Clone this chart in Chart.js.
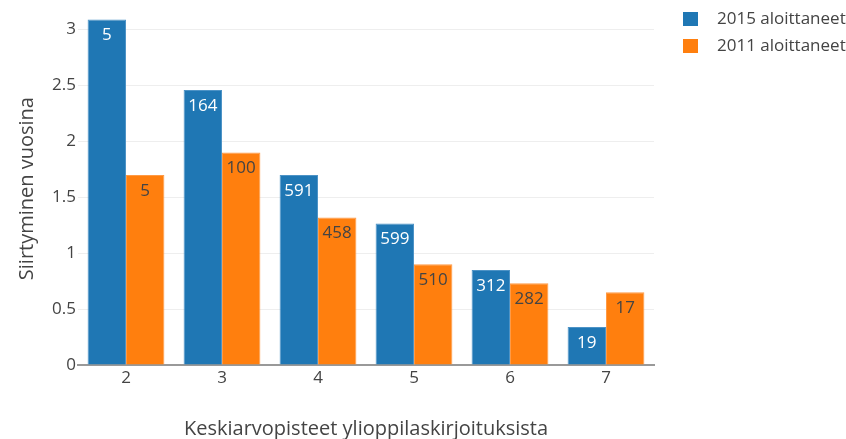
<!DOCTYPE html>
<html>
<head>
<meta charset="utf-8">
<script src="https://cdn.jsdelivr.net/npm/chart.js@4"></script>
<style>
  html, body { margin: 0; padding: 0; background: #fff; }
  #wrap { width: 846px; height: 439px; position: relative; }
</style>
</head>
<body>
<div id="wrap"><canvas id="c" width="846" height="439"></canvas></div>
<script>
const categories = ['2', '3', '4', '5', '6', '7'];
const seriesNames = ['2015 aloittaneet', '2011 aloittaneet'];
const values2015 = [3.09, 2.46, 1.70, 1.265, 0.85, 0.34];
const values2011 = [1.70, 1.90, 1.32, 0.90, 0.73, 0.65];
const counts2015 = [5, 164, 591, 599, 312, 19];
const counts2011 = [5, 100, 458, 510, 282, 17];
const yTicks = [0, 0.5, 1, 1.5, 2, 2.5, 3];
const xTitle = 'Keskiarvopisteet ylioppilaskirjoituksista';
const yTitle = 'Siirtyminen vuosina';

const FONT = "'Open Sans', 'DejaVu Sans', sans-serif";
const TXT = '#444';
const BLUE = '#1f77b4';
const ORANGE = '#ff7f0e';

const counts = [counts2015, counts2011];
const labelColors = ['#ffffff', '#444444'];

const barLabels = {
  id: 'barLabels',
  afterDatasetsDraw(chart) {
    const ctx = chart.ctx;
    ctx.save();
    ctx.font = '17px ' + FONT;
    ctx.textAlign = 'center';
    ctx.textBaseline = 'middle';
    chart.data.datasets.forEach((ds, i) => {
      const meta = chart.getDatasetMeta(i);
      meta.data.forEach((bar, j) => {
        ctx.fillStyle = labelColors[i];
        ctx.fillText(String(counts[i][j]), bar.x, bar.y + 16);
      });
    });
    ctx.restore();
  }
};

const customLegend = {
  id: 'customLegend',
  afterDraw(chart) {
    const ctx = chart.ctx;
    ctx.save();
    ctx.font = '17px ' + FONT;
    ctx.textAlign = 'left';
    ctx.textBaseline = 'middle';
    chart.data.datasets.forEach((ds, i) => {
      const cy = 19 + i * 27;
      ctx.fillStyle = ds.backgroundColor;
      ctx.fillRect(683, cy - 7, 15, 14);
      ctx.fillStyle = TXT;
      ctx.fillText(ds.label, 717, cy);
    });
    ctx.restore();
  }
};

new Chart(document.getElementById('c'), {
  type: 'bar',
  data: {
    labels: categories,
    datasets: [
      { label: seriesNames[0], data: values2015, backgroundColor: BLUE, borderColor: '#4d93c6', borderWidth: 1 },
      { label: seriesNames[1], data: values2011, backgroundColor: ORANGE, borderColor: '#ff9a45', borderWidth: 1 }
    ]
  },
  options: {
    responsive: false,
    animation: false,
    events: [],
    layout: { padding: { top: 3, right: 192, left: 0, bottom: 0 } },
    datasets: { bar: { categoryPercentage: 0.8, barPercentage: 1.0 } },
    plugins: { legend: { display: false }, tooltip: { enabled: false } },
    scales: {
      x: {
        grid: { display: false, drawTicks: false },
        border: { display: true, color: '#999', width: 2 },
        ticks: { color: TXT, font: { family: FONT, size: 17 }, padding: 3, maxRotation: 0 },
        title: { display: true, text: xTitle, color: TXT, font: { family: FONT, size: 20, lineHeight: 1 }, padding: { top: 0, bottom: 0 } },
        afterFit(s) { s.height = 74; }
      },
      y: {
        min: 0, max: 3.155,
        grid: { color: '#eee', lineWidth: 1, drawTicks: false },
        border: { display: false },
        afterBuildTicks(s) { s.ticks = yTicks.map(v => ({ value: v })); },
        ticks: { color: TXT, font: { family: FONT, size: 17 }, padding: 2,
                 callback: v => String(v) },
        title: { display: true, text: yTitle, color: TXT, font: { family: FONT, size: 20, lineHeight: 1 }, padding: { top: 17, bottom: 0 } },
        afterFit(s) { s.width = 78; }
      }
    }
  },
  plugins: [barLabels, customLegend]
});
</script>
</body>
</html>
